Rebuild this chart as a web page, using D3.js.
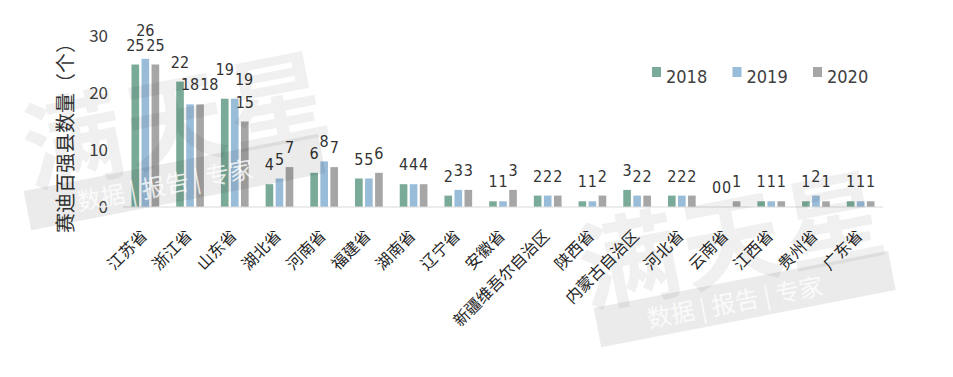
<!DOCTYPE html>
<html>
<head>
<meta charset="utf-8">
<script src="https://cdn.jsdelivr.net/npm/d3@7"></script>
<style>
  body { margin: 0; background: #fff; }
  svg { display: block; font-family: "Noto Sans CJK SC", "Noto Sans", sans-serif; }
</style>
</head>
<body>
<div id="chart"></div>
<script>
// data
const provinces = ["江苏省", "浙江省", "山东省", "湖北省", "河南省", "福建省", "湖南省", "辽宁省", "安徽省",
    "新疆维吾尔自治区", "陕西省", "内蒙古自治区", "河北省", "云南省", "江西省", "贵州省", "广东省"];
const years = ["2018", "2019", "2020"];
const counts2018 = [25, 22, 19, 4, 6, 5, 4, 2, 1, 2, 1, 3, 2, 0, 1, 1, 1];
const counts2019 = [26, 18, 19, 5, 8, 5, 4, 3, 1, 2, 1, 2, 2, 0, 1, 2, 1];
const counts2020 = [25, 18, 15, 7, 7, 6, 4, 3, 3, 2, 2, 2, 2, 1, 1, 1, 1];
const yTicks = [0, 10, 20, 30];
const yTitle = "赛迪百强县数量（个）";

const colors = ["#7aab98", "#99bcd9", "#a6a6a6"];
const seriesValues = [counts2018, counts2019, counts2020];

const W = 953, H = 377;
const svg = d3.select("#chart").append("svg")
    .attr("width", W).attr("height", H);

// faint watermark drawn on top (like the reference stamp)
function watermark(cx, cy, shift) {
    const g = svg.append("g")
        .attr("transform", `translate(${cx},${cy}) rotate(-11)`);
    g.append("text")
        .attr("text-anchor", "middle")
        .attr("x", shift)
        .attr("y", -24)
        .style("font-size", "100px")
        .style("font-weight", "bold")
        .style("letter-spacing", "4px")
        .attr("fill", "#000").attr("fill-opacity", 0.06)
        .text("满天星");
    g.append("rect")
        .attr("x", -140).attr("y", -21)
        .attr("width", 300).attr("height", 40)
        .attr("fill", "#000").attr("fill-opacity", 0.08);
    g.append("text")
        .attr("text-anchor", "middle")
        .attr("y", 9)
        .style("font-size", "24px")
        .attr("fill", "#fff").attr("fill-opacity", 0.8)
        .text("数据 | 报告 | 专家");
}

// scales
const x0 = d3.scaleBand()
    .domain(provinces)
    .range([123, 883])
    .paddingInner(0).paddingOuter(0);

const x1 = d3.scaleBand()
    .domain(years)
    .range([8.5, 36.2])
    .paddingInner(0.24);

const y = d3.scaleLinear()
    .domain([0, 30])
    .range([207, 36]);

// y tick labels (no axis line)
svg.append("g")
    .selectAll("text")
    .data(yTicks)
    .join("text")
    .attr("x", 108)
    .attr("y", d => y(d))
    .attr("dy", "0.36em")
    .attr("text-anchor", "end")
    .style("font-size", "17px")
    .attr("fill", "#404040")
    .text(d => d);

// y title
svg.append("text")
    .attr("transform", "translate(66,133) rotate(-90)")
    .attr("text-anchor", "middle")
    .attr("dy", "0.35em")
    .style("font-size", "20px")
    .attr("fill", "#333")
    .text(yTitle);

// bars
const groups = svg.append("g")
    .selectAll("g")
    .data(provinces)
    .join("g")
    .attr("transform", d => `translate(${x0(d)},0)`);

groups.selectAll("rect")
    .data((d, i) => years.map((yr, j) => ({ year: yr, j: j, value: seriesValues[j][i] })))
    .join("rect")
    .attr("x", d => x1(d.year))
    .attr("y", d => y(d.value))
    .attr("width", x1.bandwidth())
    .attr("height", d => y(0) - y(d.value))
    .attr("fill", d => colors[d.j]);

// baseline
svg.append("line")
    .attr("x1", 123).attr("x2", 883)
    .attr("y1", y(0)).attr("y2", y(0))
    .attr("stroke", "#d9d9d9").attr("stroke-width", 1);

// value labels, nudged when they collide with an earlier label
const labelLayer = svg.append("g");
const placed = [];
provinces.forEach((p, i) => {
    years.forEach((yr, j) => {
        const v = seriesValues[j][i];
        let cx = x0(p) + x1(yr) + x1.bandwidth() / 2;
        let base = y(v) - 14;
        const t = labelLayer.append("text")
            .attr("text-anchor", "middle")
            .style("font-family", "'Liberation Sans Narrow', 'DejaVu Sans Condensed', 'Noto Sans', sans-serif")
            .style("font-size", "16px")
            .attr("fill", "#333")
            .text(v);
        const w = t.node().getComputedTextLength();
        const h = 14;
        placed.forEach(b => {
            const overlapX = cx - w / 2 < b.x1 && cx + w / 2 > b.x0;
            const overlapY = base - h < b.y1 && base > b.y0;
            if (overlapX && overlapY) {
                if (v > b.v) base = b.y0 - 1;
                else cx = b.x1 + 1 + w / 2;
            }
        });
        t.attr("x", cx).attr("y", base);
        placed.push({ x0: cx - w / 2, x1: cx + w / 2, y0: base - h, y1: base, v: v });
    });
});

// x category labels
svg.append("g")
    .selectAll("text")
    .data(provinces)
    .join("text")
    .attr("transform", d => `translate(${x0(d) + x0.bandwidth() / 2 - 1},233) rotate(-45)`)
    .attr("text-anchor", "end")
    .attr("dy", "0.35em")
    .style("font-size", "16px")
    .attr("fill", "#262626")
    .text(d => d);

// legend
const legend = svg.append("g")
    .selectAll("g")
    .data(years)
    .join("g")
    .attr("transform", (d, i) => `translate(${652 + i * 80.5},0)`);

legend.append("rect")
    .attr("x", 0).attr("y", 67)
    .attr("width", 9).attr("height", 10)
    .attr("fill", (d, i) => colors[i]);

legend.append("text")
    .attr("x", 14).attr("y", 83)
    .style("font-size", "18px")
    .style("font-family", "'Liberation Sans Narrow', 'DejaVu Sans Condensed', 'Noto Sans', sans-serif")
    .attr("fill", "#404040")
    .text(d => d);

watermark(165, 185, 24);
watermark(735, 302, 10);
</script>
</body>
</html>
